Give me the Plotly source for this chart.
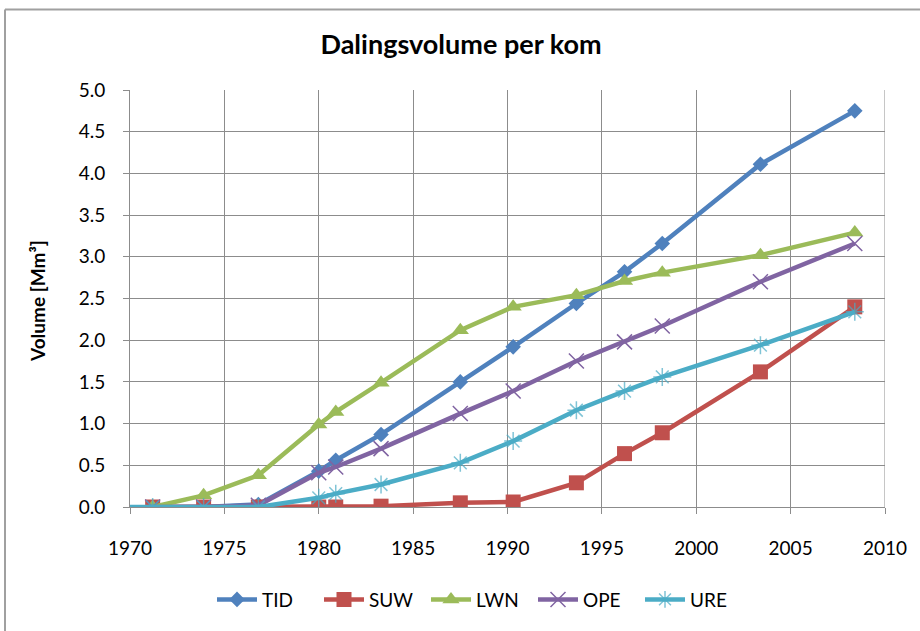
import plotly.graph_objects as go

years = [1971.2, 1973.9, 1976.8, 1980.0, 1980.9, 1983.3, 1987.5, 1990.3, 1993.65, 1996.2, 1998.2, 2003.4, 2008.4]
tid = [0.0, 0.0, 0.03, 0.43, 0.56, 0.87, 1.50, 1.92, 2.44, 2.82, 3.16, 4.11, 4.75]
suw = [0.0, 0.0, 0.0, 0.0, 0.0, 0.01, 0.05, 0.06, 0.29, 0.64, 0.89, 1.62, 2.40]
lwn = [0.0, 0.14, 0.38, 0.99, 1.14, 1.49, 2.12, 2.40, 2.54, 2.71, 2.81, 3.02, 3.29]
ope = [0.0, 0.0, 0.02, 0.41, 0.48, 0.70, 1.12, 1.39, 1.75, 1.98, 2.17, 2.70, 3.16]
ure_years = [1970.0] + years
ure = [0.0, 0.0, 0.0, 0.0, 0.11, 0.16, 0.27, 0.53, 0.79, 1.16, 1.39, 1.56, 1.94, 2.34]

x_ticks = [1970, 1975, 1980, 1985, 1990, 1995, 2000, 2005, 2010]
y_ticks = [0.0, 0.5, 1.0, 1.5, 2.0, 2.5, 3.0, 3.5, 4.0, 4.5, 5.0]

FONT = "Lato"
fig = go.Figure()

fig.add_trace(go.Scatter(x=years, y=tid, name="TID", mode="lines+markers",
                         line=dict(color="#4F81BD", width=4.5),
                         marker=dict(symbol="diamond", size=12, color="#4F81BD")))
fig.add_trace(go.Scatter(x=years, y=suw, name="SUW", mode="lines+markers",
                         line=dict(color="#C0504D", width=4.5),
                         marker=dict(symbol="square", size=15, color="#C0504D")))
fig.add_trace(go.Scatter(x=years, y=lwn, name="LWN", mode="lines+markers",
                         line=dict(color="#9BBB59", width=4.5),
                         marker=dict(symbol="triangle-up", size=15, color="#9BBB59")))
fig.add_trace(go.Scatter(x=years, y=ope, name="OPE", mode="lines+markers",
                         line=dict(color="#8064A2", width=4.5),
                         marker=dict(symbol="x-thin", size=15, color="#8064A2",
                                     line=dict(color="#8064A2", width=1.5))))
fig.add_trace(go.Scatter(x=ure_years, y=ure, name="URE", mode="lines+markers",
                         line=dict(color="#4BACC6", width=4.5),
                         marker=dict(symbol="asterisk", size=[0] + [15] * len(years), color="#4BACC6",
                                     line=dict(color="#4BACC6", width=1.5))))

L, T, PW, PH = 130, 90, 755, 419

fig.update_layout(
    width=920, height=631,
    margin=dict(l=L, r=920 - L - PW, t=T, b=631 - T - PH),
    paper_bgcolor="white", plot_bgcolor="white",
    font=dict(family=FONT, size=19, color="black"),
    title=dict(text="<b>Dalingsvolume per kom</b>", x=461 / 920, xanchor="center",
               y=1 - 45 / 631, yanchor="middle", font=dict(family=FONT, size=27, color="black")),
    showlegend=True,
    legend=dict(orientation="h", x=(212 - L) / PW, xanchor="left", y=(T + PH - 602) / PH,
                yanchor="middle", font=dict(family=FONT, size=19), itemwidth=40,
                entrywidth=52, traceorder="normal"),
    xaxis=dict(range=[1970, 2010], tickvals=x_ticks, showgrid=True, gridcolor="#8c8c8c", gridwidth=1,
               showline=True, linecolor="#8c8c8c", ticks="outside", ticklen=6, tickcolor="#8c8c8c",
               ticklabelstandoff=18, zeroline=False, mirror=False),
    yaxis=dict(range=[0, 5], tickvals=y_ticks, tickformat=".1f", showgrid=True, gridcolor="#8c8c8c",
               gridwidth=1, showline=True, linecolor="#8c8c8c", ticks="outside", ticklen=6,
               tickcolor="#8c8c8c", ticklabelstandoff=14, zeroline=False),
    annotations=[dict(text="<b>Volume [Mm³]</b>", textangle=-90, xref="paper", yref="paper",
                      x=(38 - L) / PW, y=(T + PH - 302) / PH, xanchor="center", yanchor="middle",
                      showarrow=False, font=dict(family=FONT, size=19, color="black"))],
    shapes=[
        dict(type="line", xref="paper", yref="paper", x0=(5 - L) / PW, x1=(930 - L) / PW,
             y0=(T + PH - 9) / PH, y1=(T + PH - 9) / PH, line=dict(color="#a0a0a0", width=2)),
        dict(type="line", xref="paper", yref="paper", x0=(5 - L) / PW, x1=(5 - L) / PW,
             y0=(T + PH - 9) / PH, y1=(T + PH - 640) / PH, line=dict(color="#a0a0a0", width=2)),
    ],
)
fig.add_shape(type="line", xref="x", yref="paper", x0=2010, x1=2010, y0=0, y1=1,
              line=dict(color="#8c8c8c", width=1), layer="below")

fig.write_html("out.html", config={"displayModeBar": False},
               post_script="document.body.style.margin='0';")
